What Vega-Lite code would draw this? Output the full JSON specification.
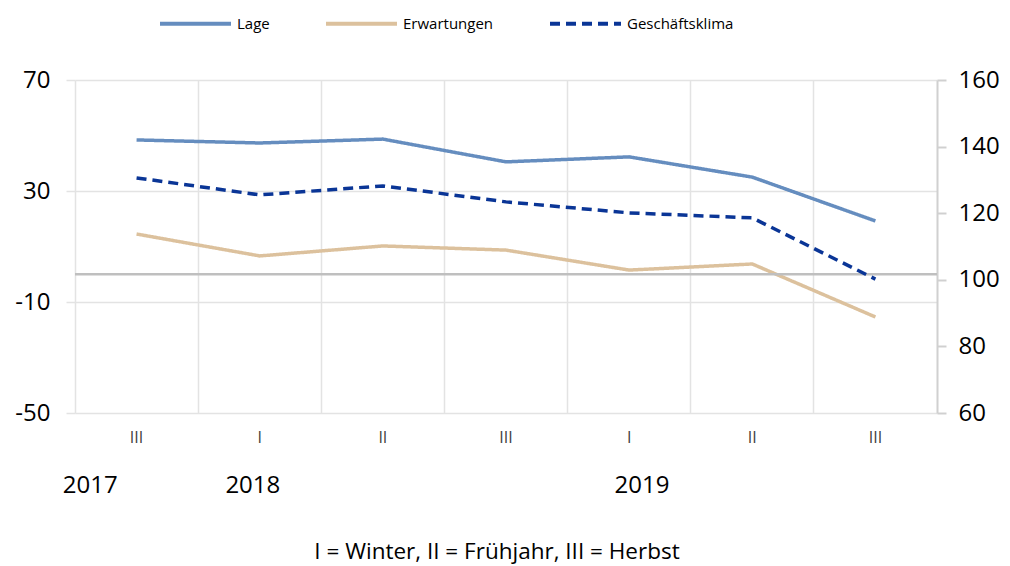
{
  "$schema": "https://vega.github.io/schema/vega-lite/v6.json",
  "width": 862,
  "height": 333,
  "autosize": {"type": "none"},
  "padding": {"left": 75, "top": 80, "right": 73, "bottom": 153},
  "background": "white",
  "config": {
    "view": {"stroke": null},
    "font": "Open Sans",
    "axis": {"labelFont": "Open Sans", "titleFont": "Open Sans"},
    "legend": {"labelFont": "Open Sans"}
  },
  "title": {
    "text": "I = Winter, II = Frühjahr, III = Herbst",
    "orient": "bottom",
    "anchor": "middle",
    "font": "Open Sans",
    "fontSize": 22.5,
    "fontWeight": "normal",
    "color": "#000000",
    "offset": 44,
    "dx": -9
  },
  "datasets": {
    "main": [
      {"q": "2017-III", "series": "Lage", "value": 48.4},
      {"q": "2018-I", "series": "Lage", "value": 47.3},
      {"q": "2018-II", "series": "Lage", "value": 48.7},
      {"q": "2018-III", "series": "Lage", "value": 40.5},
      {"q": "2019-I", "series": "Lage", "value": 42.3},
      {"q": "2019-II", "series": "Lage", "value": 35.0},
      {"q": "2019-III", "series": "Lage", "value": 19.2},
      {"q": "2017-III", "series": "Erwartungen", "value": 14.5},
      {"q": "2018-I", "series": "Erwartungen", "value": 6.6},
      {"q": "2018-II", "series": "Erwartungen", "value": 10.2},
      {"q": "2018-III", "series": "Erwartungen", "value": 8.7},
      {"q": "2019-I", "series": "Erwartungen", "value": 1.5},
      {"q": "2019-II", "series": "Erwartungen", "value": 3.7},
      {"q": "2019-III", "series": "Erwartungen", "value": -15.4},
      {"q": "2017-III", "series": "Geschäftsklima", "value": 130.6},
      {"q": "2018-I", "series": "Geschäftsklima", "value": 125.5},
      {"q": "2018-II", "series": "Geschäftsklima", "value": 128.2},
      {"q": "2018-III", "series": "Geschäftsklima", "value": 123.4},
      {"q": "2019-I", "series": "Geschäftsklima", "value": 120.1},
      {"q": "2019-II", "series": "Geschäftsklima", "value": 118.6},
      {"q": "2019-III", "series": "Geschäftsklima", "value": 100.2}
    ],
    "years": [
      {"pos": 0.12, "year": "2017"},
      {"pos": 1.44, "year": "2018"},
      {"pos": 4.6, "year": "2019"}
    ]
  },
  "layer": [
    {
      "data": {"name": "main"},
      "layer": [
        {
          "layer": [
            {
              "transform": [{"filter": "datum.series !== 'Geschäftsklima'"}],
              "mark": {"type": "line", "strokeWidth": 3.5, "strokeCap": "butt"},
              "encoding": {
                "x": {
                  "field": "q",
                  "type": "ordinal",
                  "sort": null,
                  "bandPosition": 0.5,
                  "scale": {"type": "band", "paddingInner": 0, "paddingOuter": 0},
                  "axis": {
                    "title": null,
                    "bandPosition": 0,
                    "labelExpr": "split(datum.value, '-')[1]",
                    "labelFontSize": 16,
                    "labelColor": "#404040",
                    "labelPadding": 16,
                    "labelAngle": 0,
                    "ticks": false,
                    "domain": false,
                    "grid": true,
                    "gridColor": "#e3e3e3",
                    "gridWidth": 1.5
                  }
                },
                "y": {
                  "field": "value",
                  "type": "quantitative",
                  "scale": {"domain": [-50, 70], "nice": false, "zero": false},
                  "axis": {
                    "title": null,
                    "orient": "left",
                    "values": [-50, -10, 30, 70],
                    "labelExpr": "replace(datum.label, '\u2212', '-')",
                    "labelFontSize": 24,
                    "labelColor": "#000000",
                    "labelPadding": 16,
                    "domain": false,
                    "ticks": true,
                    "tickSize": 9,
                    "tickColor": "#e3e3e3",
                    "tickWidth": 1.5,
                    "grid": true,
                    "gridColor": "#e3e3e3",
                    "gridWidth": 1.5
                  }
                },
                "color": {
                  "field": "series",
                  "type": "nominal",
                  "scale": {
                    "domain": ["Lage", "Erwartungen", "Geschäftsklima"],
                    "range": ["#658dbf", "#dcc19d", "#0a3596"]
                  },
                  "legend": {
                    "title": null,
                    "orient": "none",
                    "direction": "horizontal",
                    "legendX": 83,
                    "legendY": -94,
                    "symbolType": "stroke",
                    "symbolSize": 5041,
                    "symbolStrokeWidth": 4,
                    "labelFontSize": 15,
                    "labelColor": "#000000",
                    "labelOffset": 4,
                    "columnPadding": 48
                  }
                },
                "strokeDash": {
                  "field": "series",
                  "type": "nominal",
                  "scale": {
                    "domain": ["Lage", "Erwartungen", "Geschäftsklima"],
                    "range": [[1, 0], [1, 0], [10, 6]]
                  },
                  "legend": {
                    "title": null,
                    "orient": "none",
                    "direction": "horizontal",
                    "legendX": 83,
                    "legendY": -94,
                    "symbolType": "stroke",
                    "symbolSize": 5041,
                    "symbolStrokeWidth": 4,
                    "labelFontSize": 15,
                    "labelColor": "#000000",
                    "labelOffset": 4,
                    "columnPadding": 48
                  }
                }
              }
            },
            {
              "data": {"values": [{}]},
              "mark": {"type": "rule", "color": "#bfbfbf", "strokeWidth": 2.5},
              "encoding": {
                "y": {
                  "datum": 0,
                  "type": "quantitative",
                  "axis": {
                    "title": null,
                    "orient": "left",
                    "values": [-50, -10, 30, 70],
                    "labelExpr": "replace(datum.label, '\u2212', '-')",
                    "labelFontSize": 24,
                    "labelColor": "#000000",
                    "labelPadding": 16,
                    "domain": false,
                    "ticks": true,
                    "tickSize": 9,
                    "tickColor": "#e3e3e3",
                    "tickWidth": 1.5,
                    "grid": true,
                    "gridColor": "#e3e3e3",
                    "gridWidth": 1.5
                  }
                }
              }
            }
          ]
        },
        {
          "transform": [{"filter": "datum.series === 'Geschäftsklima'"}],
          "mark": {"type": "line", "strokeWidth": 3.5, "strokeCap": "butt"},
          "encoding": {
            "x": {
              "field": "q",
              "type": "ordinal",
              "sort": null,
              "bandPosition": 0.5,
              "scale": {"type": "band", "paddingInner": 0, "paddingOuter": 0},
              "axis": {
                "title": null,
                "bandPosition": 0,
                "labelExpr": "split(datum.value, '-')[1]",
                "labelFontSize": 16,
                "labelColor": "#404040",
                "labelPadding": 16,
                "labelAngle": 0,
                "ticks": false,
                "domain": false,
                "grid": true,
                "gridColor": "#e3e3e3",
                "gridWidth": 1.5
              }
            },
            "y": {
              "field": "value",
              "type": "quantitative",
              "scale": {"domain": [60, 160], "nice": false, "zero": false},
              "axis": {
                "title": null,
                "orient": "right",
                "values": [60, 80, 100, 120, 140, 160],
                "labelFontSize": 24,
                "labelColor": "#000000",
                "labelPadding": 12,
                "domain": true,
                "domainColor": "#d0d0d0",
                "domainWidth": 2,
                "ticks": true,
                "tickSize": 9,
                "tickColor": "#d0d0d0",
                "tickWidth": 2,
                "grid": false
              }
            },
            "color": {"field": "series", "type": "nominal"},
            "strokeDash": {"field": "series", "type": "nominal"}
          }
        }
      ],
      "resolve": {"scale": {"y": "independent"}}
    },
    {
      "data": {"name": "years"},
      "mark": {"type": "point", "opacity": 0},
      "encoding": {
        "x": {
          "field": "pos",
          "type": "quantitative",
          "scale": {"domain": [0, 7], "nice": false, "zero": false},
          "axis": {
            "title": null,
            "orient": "bottom",
            "offset": 52,
            "values": [0.12, 1.44, 4.6],
            "labelExpr": "datum.value < 1 ? '2017' : datum.value < 2 ? '2018' : '2019'",
            "labelFontSize": 24,
            "labelColor": "#000000",
            "labelPadding": 8,
            "labelFlush": false,
            "ticks": false,
            "domain": false,
            "grid": false
          }
        }
      }
    }
  ],
  "resolve": {"scale": {"x": "independent"}}
}
